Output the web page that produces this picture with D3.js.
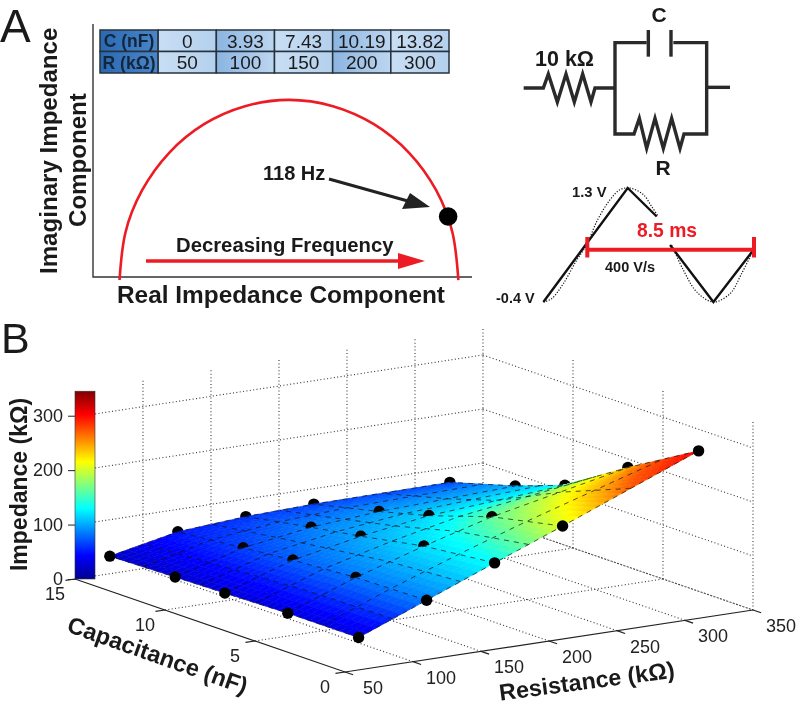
<!DOCTYPE html>
<html lang="en">
<head>
<meta charset="UTF-8">
<title>Impedance figure</title>
<script src="https://cdn.jsdelivr.net/npm/d3@7"></script>
<style>
    body { margin: 0; background: #fff; }
    svg { display: block; filter: blur(0.35px); }
    text { font-family: "Liberation Sans", Arial, sans-serif; fill: #1a1a1a; }
    .b { font-weight: bold; }
</style>
</head>
<body>
<svg id="chart" width="800" height="707"></svg>
<script>

// panel A data
const tableHead = ["C (nF)", "R (kΩ)"]
const tableC = ["0", "3.93", "7.43", "10.19", "13.82"]
const tableR = ["50", "100", "150", "200", "300"]

// Nyquist curve, arbitrary units
const curveRe = [7.0, 8.5, 13.0, 20.1, 29.3, 40.1, 51.7, 63.3, 74.1, 83.4, 90.5, 94.9, 96.4]
const curveIm = [-1.2, 17.2, 34.4, 49.1, 60.4, 67.5, 70.0, 67.5, 60.4, 49.1, 34.4, 17.2, -1.2]
const markerRe = [93.7]
const markerIm = [23.9]

// waveform, t in ms, V in volts
const triT1 = [-2.24, 2.06, 3.54]
const triV1 = [-0.4, 1.3, 0.875]
const triT2 = [4.22, 6.43, 8.47]
const triV2 = [0.45, -0.4, 0.375]
const sineT1 = [-2.24, -1.82, -1.22, -0.54, -0.03, 0.48, 1.16, 1.67, 2.18, 2.86, 3.28, 3.62]
const sineV1 = [-0.4, -0.35, -0.125, 0.225, 0.45, 0.8, 1.125, 1.275, 1.3, 1.2, 1.025, 0.875]
const sineT2 = [4.3, 4.9, 5.58, 6.43, 7.28, 7.87, 8.47]
const sineV2 = [0.45, 0.075, -0.25, -0.4, -0.275, 0.025, 0.375]

// panel B data: total resistance (kΩ), capacitance (nF), impedance per capacitance row
const resistance = [60, 110, 160, 210, 310]
const capacitance = [0, 3.93, 7.43, 10.19, 13.82]
const impedance = [
    [60, 110, 160, 209, 310],
    [60, 107, 146, 181, 234],
    [57, 99, 124, 143, 161],
    [55, 90, 109, 119, 128],
    [52, 78, 87, 91, 93]
]
const rTicks = [50, 100, 150, 200, 250, 300, 350]
const cTicks = [0, 5, 10, 15]
const zTicks = [0, 100, 200, 300]

const svg = d3.select("#chart")
const defs = svg.append("defs")
const line = d3.line()
const red = "#ed1c24"

// panel letters
svg.append("text").text("A").attr("x", 0).attr("y", 42).attr("font-size", 46)
svg.append("text").text("B").attr("x", 1).attr("y", 353).attr("font-size", 43)

// ---------- panel A, Nyquist plot ----------
let reScale = d3.scaleLinear().domain([0, 100]).range([93, 472])
let imScale = d3.scaleLinear().domain([0, 100]).range([277, 24])

svg.append("path")
    .attr("d", line([[reScale(0), imScale(100)], [reScale(0), imScale(0)], [reScale(100), imScale(0)]]))
    .attr("fill", "none").attr("stroke", "#333").attr("stroke-width", 1.4)

let nyquist = d3.line().x(d => reScale(d[0])).y(d => imScale(d[1])).curve(d3.curveNatural)
svg.append("path")
    .attr("d", nyquist(d3.zip(curveRe, curveIm)))
    .attr("fill", "none").attr("stroke", red).attr("stroke-width", 2.6)

svg.selectAll(".marker").data(d3.zip(markerRe, markerIm)).join("circle")
    .attr("cx", d => reScale(d[0])).attr("cy", d => imScale(d[1])).attr("r", 9.3).attr("fill", "#000")

// table
let colX = d3.scalePoint().domain(d3.range(7)).range([100, 449])
let rowY = d3.scalePoint().domain(d3.range(3)).range([30, 73])
function cellGrad(id, a, b) {
    let g = defs.append("linearGradient").attr("id", id)
    g.append("stop").attr("offset", "0").attr("stop-color", a)
    g.append("stop").attr("offset", "1").attr("stop-color", b)
}
cellGrad("gHead", "#2a69b2", "#4a86c8")
cellGrad("gOdd", "#c8def4", "#b4d0ed")
cellGrad("gEven", "#8bb4e1", "#bdd6f0")
let rows = [tableC, tableR]
rows.forEach((row, i) => {
    svg.append("rect")
        .attr("x", colX(0)).attr("y", rowY(i))
        .attr("width", colX(1) - colX(0)).attr("height", rowY(1) - rowY(0))
        .attr("fill", "url(#gHead)").attr("stroke", "#26333f").attr("stroke-width", 1.5)
    svg.append("text").attr("class", "b").text(tableHead[i])
        .attr("x", (colX(0) + colX(1)) / 2).attr("y", rowY(i) + 17)
        .attr("text-anchor", "middle").attr("font-size", 17.5).style("fill", "#14263c")
    row.forEach((v, j) => {
        svg.append("rect")
            .attr("x", colX(j + 1)).attr("y", rowY(i))
            .attr("width", colX(1) - colX(0)).attr("height", rowY(1) - rowY(0))
            .attr("fill", j % 2 ? "url(#gEven)" : "url(#gOdd)").attr("stroke", "#26333f").attr("stroke-width", 1.5)
        svg.append("text").text(v)
            .attr("x", (colX(j + 1) + colX(j + 2)) / 2).attr("y", rowY(i) + 17.5)
            .attr("text-anchor", "middle").attr("font-size", 19)
    })
})

// labels panel A
svg.append("text").attr("class", "b").text("118 Hz").attr("x", 263).attr("y", 180).attr("font-size", 20)
svg.append("text").attr("class", "b").text("Decreasing Frequency").attr("x", 176).attr("y", 252).attr("font-size", 20.3)
svg.append("text").attr("class", "b").text("Real Impedance Component").attr("x", 117).attr("y", 303).attr("font-size", 24.4)
svg.append("text").attr("class", "b").text("Imaginary Impedance")
    .attr("transform", "translate(57,274) rotate(-90)").attr("font-size", 24.1)
svg.append("text").attr("class", "b").text("Component")
    .attr("transform", "translate(86,227) rotate(-90)").attr("font-size", 24.1)

// 118 Hz arrow
svg.append("path").attr("d", line([[329, 179], [415, 203]])).attr("stroke", "#222").attr("stroke-width", 3).attr("fill", "none")
svg.append("path").attr("d", line([[430, 207], [410, 193], [402, 209]]) + "Z").attr("fill", "#222")

// frequency arrow
svg.append("path").attr("d", line([[146, 261], [400, 261]])).attr("stroke", red).attr("stroke-width", 3.4).attr("fill", "none")
svg.append("path").attr("d", line([[425, 261], [398, 253], [398, 269]]) + "Z").attr("fill", red)

// ---------- circuit, in units of a 3x crop starting at x=480 ----------
let cx = d3.scaleLinear().domain([0, 960]).range([480, 800])
let cy = d3.scaleLinear().domain([0, 930]).range([0, 310])
let wire = d3.line().x(d => cx(d[0])).y(d => cy(d[1]))
const wires = [
    [[131, 264], [190, 264], [205, 222], [232, 306], [258, 222], [283, 306], [308, 222], [333, 306], [345, 264], [405, 264]],
    [[500, 128], [405, 128], [405, 402], [462, 402], [478, 355], [500, 445], [525, 355], [550, 445], [575, 355], [600, 445], [612, 402], [680, 402], [680, 128], [580, 128]],
    [[505, 90], [505, 170]],
    [[573, 90], [573, 170]],
    [[680, 262], [750, 262]]
]
svg.selectAll(".wire").data(wires).join("path")
    .attr("class", "wire")
    .attr("d", d => wire(d))
    .attr("fill", "none").attr("stroke", "#2a2a2a").attr("stroke-width", 3.4)
svg.append("text").attr("class", "b").text("C").attr("x", 659).attr("y", 22).attr("text-anchor", "middle").attr("font-size", 21)
svg.append("text").attr("class", "b").text("R").attr("x", 663).attr("y", 175).attr("text-anchor", "middle").attr("font-size", 21)
svg.append("text").attr("class", "b").text("10 kΩ").attr("x", 535).attr("y", 66).attr("font-size", 21.5)

// ---------- waveform ----------
let tScale = d3.scaleLinear().domain([0, 8.5]).range([587.3, 754])
let vScale = d3.scaleLinear().domain([-0.4, 1.3]).range([302, 188])
let wave = d3.line().x(d => tScale(d[0])).y(d => vScale(d[1]))
let smooth = d3.line().x(d => tScale(d[0])).y(d => vScale(d[1])).curve(d3.curveCatmullRom)
;[d3.zip(sineT1, sineV1), d3.zip(sineT2, sineV2)].forEach(d => {
    svg.append("path").attr("d", smooth(d)).attr("fill", "none")
        .attr("stroke", "#111").attr("stroke-width", 1.2).attr("stroke-dasharray", "1.2 1.6")
})
;[d3.zip(triT1, triV1), d3.zip(triT2, triV2)].forEach(d => {
    svg.append("path").attr("d", wave(d)).attr("fill", "none").attr("stroke", "#111").attr("stroke-width", 2.4)
})
svg.append("path").attr("d", wave([[0, 0.38], [8.5, 0.38]])).attr("stroke", red).attr("stroke-width", 4).attr("fill", "none")
;[0, 8.5].forEach(t => {
    svg.append("path").attr("d", line([[tScale(t), 237], [tScale(t), 257.5]])).attr("stroke", red).attr("stroke-width", 4)
})
svg.append("text").attr("class", "b").text("8.5 ms").attr("x", 637).attr("y", 237).attr("font-size", 19.3).style("fill", red)
svg.append("text").attr("class", "b").text("1.3 V").attr("x", 572).attr("y", 197).attr("font-size", 14.8)
svg.append("text").attr("class", "b").text("400 V/s").attr("x", 605).attr("y", 272).attr("font-size", 14.5)
svg.append("text").attr("class", "b").text("-0.4 V").attr("x", 496).attr("y", 303).attr("font-size", 14.5)

// ---------- panel B, 3D surface with an orthographic projection ----------
const origin = [345, 672]
let xR = d3.scaleLinear().domain([50, 350]).range([0, 408])
let yR = d3.scaleLinear().domain([50, 350]).range([0, -62])
let xC = d3.scaleLinear().domain([0, 15]).range([0, -270])
let yC = d3.scaleLinear().domain([0, 15]).range([0, -93])
let yZ = d3.scaleLinear().domain([0, 350]).range([0, -189])
function project(r, c, z) {
    return [origin[0] + xR(r) + xC(c), origin[1] + yR(r) + yC(c) + yZ(z)]
}

let jet = d3.scaleLinear()
    .domain([0, 0.125, 0.375, 0.625, 0.875, 1])
    .range(["#00008f", "#0000ff", "#00ffff", "#ffff00", "#ff0000", "#800000"])
// the surface reads a bit darker than the bar at low z, redder near the tip
let zTone = d3.scaleLinear().domain([0, 55, 110, 160, 210, 260, 310, 350]).range([0, 0.075, 0.25, 0.38, 0.6, 0.79, 0.88, 1])
let zColor = z => jet(zTone(z))

// dotted grid on the walls and the floor
let grid = svg.append("g").attr("fill", "none").attr("stroke", "#333").attr("stroke-width", 1.1).attr("stroke-dasharray", "1 2.4")
let gridSegs = []
rTicks.slice(1).forEach(r => {
    gridSegs.push([project(r, 15, 0), project(r, 15, 350)])
    gridSegs.push([project(r, 0, 0), project(r, 15, 0)])
})
cTicks.slice(0, 3).forEach(c => gridSegs.push([project(350, c, 0), project(350, c, 350)]))
cTicks.slice(1, 3).forEach(c => gridSegs.push([project(50, c, 0), project(350, c, 0)]))
zTicks.forEach(z => {
    gridSegs.push([project(50, 15, z), project(350, 15, z)])
    gridSegs.push([project(350, 15, z), project(350, 0, z)])
})
grid.selectAll("path").data(gridSegs).join("path").attr("d", d => line(d))

// solid axes
let axis = svg.append("g").attr("fill", "none").attr("stroke", "#222").attr("stroke-width", 1.2)
axis.append("path").attr("d", line([project(350, 0, 0), project(50, 0, 0), project(50, 15, 0)]))
rTicks.forEach(r => axis.append("path").attr("d", line([project(r, 0, 0), project(r, -0.45, 0)])))
cTicks.forEach(c => axis.append("path").attr("d", line([project(50, c, 0), project(43, c, 0)])))

svg.selectAll(".rlab").data(rTicks).join("text")
    .attr("class", "rlab").text(d => d)
    .attr("x", d => project(d, 0, 0)[0] + 28).attr("y", d => project(d, 0, 0)[1] + 22)
    .attr("text-anchor", "middle").attr("font-size", 18).style("fill", "#222")
svg.selectAll(".clab").data(cTicks).join("text")
    .attr("class", "clab").text(d => d)
    .attr("x", d => project(50, d, 0)[0] - 20).attr("y", d => project(50, d, 0)[1] + 21)
    .attr("text-anchor", "middle").attr("font-size", 18).style("fill", "#222")

svg.append("text").attr("class", "b").text("Capacitance (nF)")
    .attr("transform", "translate(157,657) rotate(19.5)").attr("text-anchor", "middle")
    .attr("dominant-baseline", "middle").attr("font-size", 23.5)
svg.append("text").attr("class", "b").text("Resistance (kΩ)")
    .attr("transform", "translate(587,683) rotate(-7.5)").attr("text-anchor", "middle")
    .attr("dominant-baseline", "middle").attr("font-size", 23.3)
svg.append("text").attr("class", "b").text("Impedance (kΩ)")
    .attr("transform", "translate(27,484.5) rotate(-90)").attr("text-anchor", "middle").attr("font-size", 23)

// colorbar doubles as the z axis
let zBar = d3.scaleLinear().domain([0, 350]).range([579, 388.5])
let grad = defs.append("linearGradient").attr("id", "gJet").attr("x1", 0).attr("y1", 1).attr("x2", 0).attr("y2", 0)
jet.domain().forEach(s => grad.append("stop").attr("offset", s).attr("stop-color", jet(s)))
svg.append("rect").attr("x", 75).attr("y", zBar(345)).attr("width", 20).attr("height", zBar(0) - zBar(345))
    .attr("fill", "url(#gJet)").attr("stroke", "#333").attr("stroke-width", 0.6)
let zAxis = svg.append("g").attr("transform", "translate(75,0)")
    .call(d3.axisLeft(zBar).tickValues(zTicks).tickSize(7).tickPadding(5))
zAxis.select(".domain").remove()
zAxis.selectAll("text").attr("font-size", 18).style("font-family", "'Liberation Sans', Arial, sans-serif").style("fill", "#222")
zAxis.selectAll("line").attr("stroke", "#222")

// surface: the measured grid is walked in small steps for shading only
function surfaceZ(r, c) {
    let i = Math.min(d3.bisectRight(resistance, r) - 1, resistance.length - 2)
    let j = Math.min(d3.bisectRight(capacitance, c) - 1, capacitance.length - 2)
    let u = (r - resistance[i]) / (resistance[i + 1] - resistance[i])
    let v = (c - capacitance[j]) / (capacitance[j + 1] - capacitance[j])
    let a = d3.interpolateNumber(impedance[j][i], impedance[j][i + 1])(u)
    let b = d3.interpolateNumber(impedance[j + 1][i], impedance[j + 1][i + 1])(u)
    return a + (b - a) * v
}
const steps = 40
let rStep = d3.range(steps + 1).map(d3.scaleLinear().domain([0, steps]).range(d3.extent(resistance)))
let cStep = d3.range(steps + 1).map(d3.scaleLinear().domain([0, steps]).range(d3.extent(capacitance)))

// dots hidden partly behind the far edges go under the surface
let dots = []
capacitance.forEach((c, j) => resistance.forEach((r, i) => {
    let front = (i == 0 || j == 0)
    let back = (i == 4 || j == 4)
    dots.push({ r, c, z: impedance[j][i], layer: front ? "front" : back ? "back" : "mid" })
}))
svg.selectAll(".dotBack").data(dots.filter(d => d.layer == "back")).join("circle")
    .attr("cx", d => project(d.r, d.c, d.z)[0]).attr("cy", d => project(d.r, d.c, d.z)[1])
    .attr("r", 5.7).attr("fill", "#000")

let cells = []
for (let j = steps - 1; j >= 0; j--) {
    for (let i = steps - 1; i >= 0; i--) {
        let r0 = rStep[i], r1 = rStep[i + 1], c0 = cStep[j], c1 = cStep[j + 1]
        let quad = [[r0, c0], [r1, c0], [r1, c1], [r0, c1]]
        cells.push({
            pts: quad.map(q => project(q[0], q[1], surfaceZ(q[0], q[1]))),
            z: surfaceZ((r0 + r1) / 2, (c0 + c1) / 2)
        })
    }
}
svg.append("g").selectAll("path").data(cells).join("path")
    .attr("d", d => line(d.pts) + "Z")
    .attr("fill", d => zColor(d.z)).attr("stroke", d => zColor(d.z)).attr("stroke-width", 0.6)

// dashed mesh
let meshR = [60, 85, 110, 135, 160, 185, 210, 260, 310]
let meshC = [0, 2, 3.93, 5.7, 7.43, 8.8, 10.19, 12, 13.82]
let mesh = svg.append("g").attr("fill", "none").attr("stroke", "#111").attr("stroke-width", 1)
    .attr("stroke-opacity", 0.7).attr("stroke-dasharray", "5 5")
meshR.forEach(r => {
    mesh.append("path").attr("d", line(cStep.map(c => project(r, c, surfaceZ(r, c)))))
})
meshC.forEach(c => {
    mesh.append("path").attr("d", line(rStep.map(r => project(r, c, surfaceZ(r, c)))))
})

// dots poking out of the surface show only their top half
let dome = d3.arc().innerRadius(0).outerRadius(5.7).startAngle(-Math.PI / 2 - 0.2).endAngle(Math.PI / 2 - 0.2)
svg.selectAll(".dotMid").data(dots.filter(d => d.layer == "mid")).join("path")
    .attr("transform", d => "translate(" + project(d.r, d.c, d.z) + ")")
    .attr("d", dome).attr("fill", "#0a0505")
svg.selectAll(".dotFront").data(dots.filter(d => d.layer == "front")).join("circle")
    .attr("cx", d => project(d.r, d.c, d.z)[0]).attr("cy", d => project(d.r, d.c, d.z)[1])
    .attr("r", 5.7).attr("fill", "#000")

</script>
</body>
</html>
